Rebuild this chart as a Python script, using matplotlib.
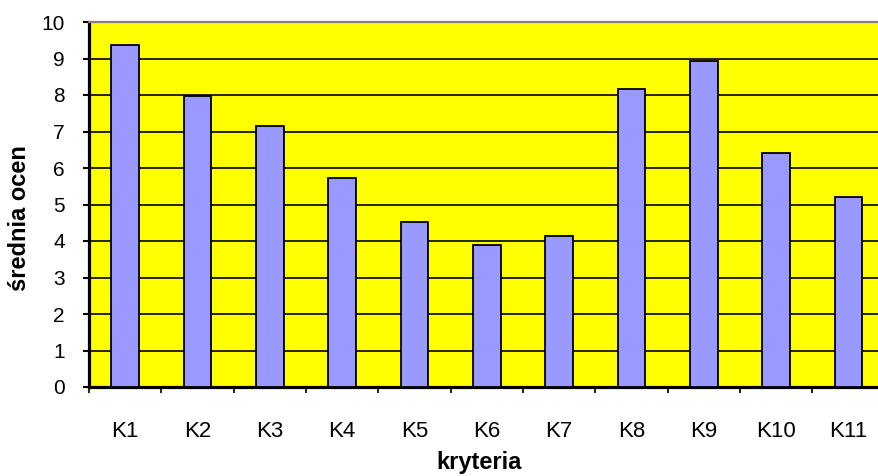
import matplotlib
matplotlib.use("Agg")
import matplotlib.pyplot as plt
import numpy as np

categories = ["K1", "K2", "K3", "K4", "K5", "K6", "K7", "K8", "K9", "K10", "K11"]
scores = [9.38, 7.98, 7.16, 5.72, 4.51, 3.89, 4.15, 8.17, 8.93, 6.40, 5.21]
y_ticks = [0, 1, 2, 3, 4, 5, 6, 7, 8, 9, 10]

plt.rcParams["font.family"] = ["Liberation Sans", "DejaVu Sans"]

W, H = 879, 476
fig = plt.figure(figsize=(W / 100, H / 100), dpi=100)
left, right, top, bottom = 89, 884.6, 22, 387
ax = fig.add_axes([left / W, (H - bottom) / H, (right - left) / W, (bottom - top) / H])

ax.set_facecolor("#FFFF00")
x = np.arange(len(categories))
ax.bar(x, scores, width=0.385, color="#9999FF", edgecolor="black",
       linewidth=1.3, zorder=3)

ax.set_xlim(-0.5, len(categories) - 0.5)
ax.set_ylim(0, 10)
ax.set_yticks(y_ticks)
ax.set_yticklabels([str(v) for v in y_ticks], fontsize=15)
ax.yaxis.grid(True, color="black", linewidth=1.2, zorder=1)
ax.set_axisbelow(True)

# category labels centred, tick marks between categories
ax.set_xticks(x)
ax.set_xticklabels(categories, fontsize=16)
ax.tick_params(axis="x", which="major", length=0, pad=24.5)
ax.set_xticks(np.arange(-0.5, len(categories), 1.0), minor=True)
ax.tick_params(axis="x", which="minor", length=4.3, width=1.2, color="black")
ax.tick_params(axis="y", length=4.3, width=1.5, pad=13, color="black")

for side in ("left", "bottom"):
    ax.spines[side].set_color("black")
    ax.spines[side].set_linewidth(2.3)
ax.spines["top"].set_color("#808080")
ax.spines["top"].set_linewidth(1.6)
ax.spines["right"].set_visible(False)

fig.text(20 / W, 1 - 218 / H, "średnia ocen", rotation=90, fontsize=17,
         fontweight="bold", ha="center", va="center")
fig.text(479 / W, 1 - 462 / H, "kryteria", fontsize=17, fontweight="bold",
         ha="center", va="center")

fig.savefig("out.png", dpi=100)
